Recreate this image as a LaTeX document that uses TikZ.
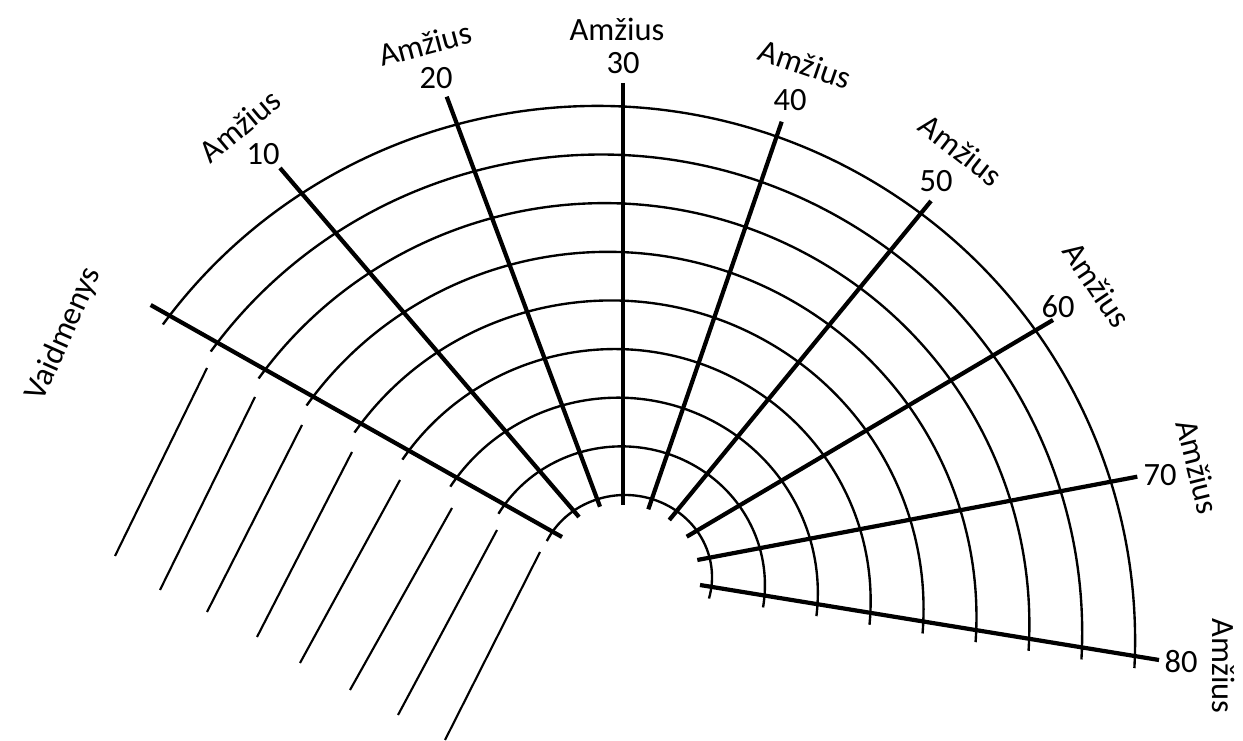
\documentclass[tikz,border=0pt]{standalone}
\usepackage{fontspec}
\setmainfont{Carlito}
\usetikzlibrary{positioning}

\tikzset{
  spoke/.style={line width=2.4pt},
  ring/.style={line width=1.35pt},
  role/.style={line width=1.2pt},
  age/.style={font=\fontsize{18.5}{21}\selectfont, inner sep=0pt},
}

\begin{document}
\begin{tikzpicture}[x=0.02cm, y=0.02cm]
  \useasboundingbox (0,0) rectangle (1243,740);

  % Spoke ends
  \coordinate (outV) at (150.7,435);   \coordinate (inV) at (562,203);
  \coordinate (out10) at (280,572);    \coordinate (in10) at (579,223);
  \coordinate (out20) at (446.7,643.3);\coordinate (in20) at (600,233.3);
  \coordinate (out30) at (623,657);    \coordinate (in30) at (623,235);
  \coordinate (out40) at (781.7,618.3);\coordinate (in40) at (648.3,230.7);
  \coordinate (out50) at (931,539);    \coordinate (in50) at (669.3,220);
  \coordinate (out60) at (1053,420);   \coordinate (in60) at (686.7,203.3);
  \coordinate (out70) at (1137.3,263.3);\coordinate (in70) at (697.3,180);
  \coordinate (out80) at (1159,80);    \coordinate (in80) at (700,155);

  % Age rings, cut just past the roles spoke and the 80 spoke
  \begin{scope}
    \clip (624.2,155.3) -- (-100,563.7) -- (-100,800) -- (1400,800) -- (1400,28.5) -- cycle;
    \draw[ring] (625,163) ++(-30:87 and 82) arc[start angle=-30, end angle=178, x radius=87, y radius=82];
    \draw[ring] (621.5,155.1) ++(-30:143.4 and 138.5) arc[start angle=-30, end angle=178, x radius=143.4, y radius=138.5];
    \draw[ring] (618,147.3) ++(-30:199.8 and 195) arc[start angle=-30, end angle=178, x radius=199.8, y radius=195];
    \draw[ring] (614.5,139.4) ++(-30:256.1 and 251.5) arc[start angle=-30, end angle=178, x radius=256.1, y radius=251.5];
    \draw[ring] (611,131.5) ++(-30:312.5 and 308) arc[start angle=-30, end angle=178, x radius=312.5, y radius=308];
    \draw[ring] (607.5,123.6) ++(-30:368.9 and 364.5) arc[start angle=-30, end angle=178, x radius=368.9, y radius=364.5];
    \draw[ring] (604,115.8) ++(-30:425.3 and 421) arc[start angle=-30, end angle=178, x radius=425.3, y radius=421];
    \draw[ring] (600.5,107.9) ++(-30:481.6 and 477.5) arc[start angle=-30, end angle=178, x radius=481.6, y radius=477.5];
    \draw[ring] (597,100) ++(-30:538 and 534) arc[start angle=-30, end angle=178, x radius=538, y radius=534];
  \end{scope}

  % Role lines
  \draw[role] (540,188) -- (445,0);
  \draw[role] (497,210) -- (398,25);
  \draw[role] (452,232) -- (350,50);
  \draw[role] (400,260) -- (300,77);
  \draw[role] (352,288) -- (257,103);
  \draw[role] (302,315) -- (207,128);
  \draw[role] (255,343) -- (160,150);
  \draw[role] (207,372) -- (115,184);

  % Spokes
  \draw[spoke] (outV) -- (inV);
  \draw[spoke] (out10) -- (in10);
  \draw[spoke] (out20) -- (in20);
  \draw[spoke] (out30) -- (in30);
  \draw[spoke] (out40) -- (in40);
  \draw[spoke] (out50) -- (in50);
  \draw[spoke] (out60) -- (in60);
  \draw[spoke] (out70) -- (in70);
  \draw[spoke] (out80) -- (in80);

  % Labels
  \node[age, rotate=66] (roles) at (64,406) {Vaidmenys};
  \node[age, rotate=40] (amz10) at (240,614) {Amžius};
  \node[age] (n10) at (263,586) {10};
  \node[age, rotate=15] (amz20) at (425,696) {Amžius};
  \node[age] (n20) at (436,662) {20};
  \node[age] (amz30) at (617,711) {Amžius};
  \node[age] (n30) at (623,677) {30};
  \node[age, rotate=-19] (amz40) at (805,676) {Amžius};
  \node[age] (n40) at (790,640) {40};
  \node[age, rotate=-38] (amz50) at (961,590) {Amžius};
  \node[age] (n50) at (936,559) {50};
  \node[age, rotate=-56] (amz60) at (1097,455) {Amžius};
  \node[age] (n60) at (1058,433) {60};
  \node[age, rotate=-76] (amz70) at (1198,273) {Amžius};
  \node[age] (n70) at (1160,265) {70};
  \node[age, rotate=-90] (amz80) at (1224,74) {Amžius};
  \node[age] (n80) at (1181,78) {80};
\end{tikzpicture}
\end{document}
